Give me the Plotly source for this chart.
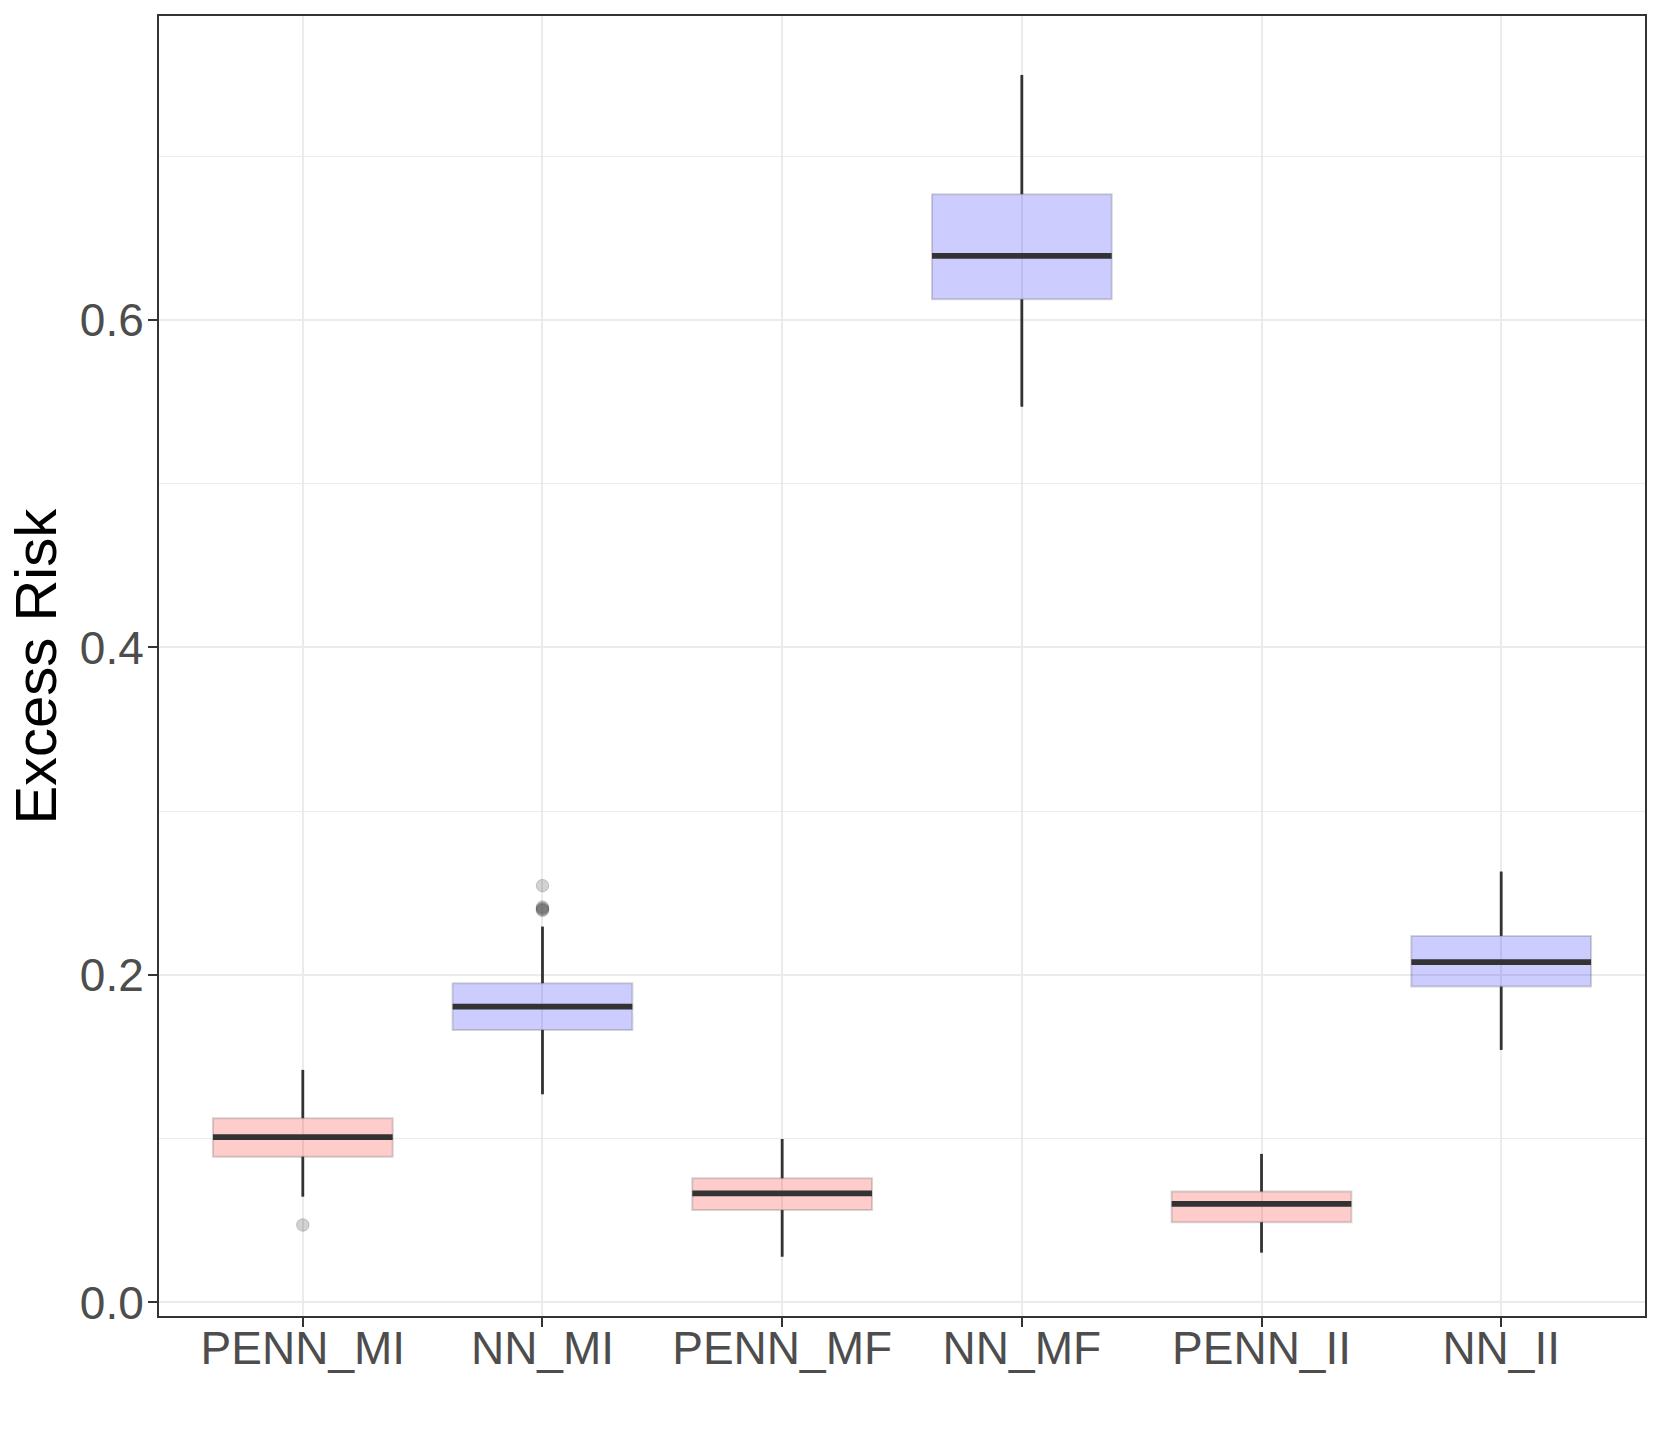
import plotly.graph_objects as go

categories = ["PENN_MI", "NN_MI", "PENN_MF", "NN_MF", "PENN_II", "NN_II"]
lower_whisker = [0.0646, 0.1271, 0.0279, 0.5470, 0.0304, 0.1542]
q1 = [0.0890, 0.1664, 0.0564, 0.6126, 0.0490, 0.1929]
median = [0.1009, 0.1806, 0.0666, 0.6391, 0.0602, 0.2078]
q3 = [0.1125, 0.1949, 0.0758, 0.6768, 0.0677, 0.2238]
upper_whisker = [0.1420, 0.2295, 0.0998, 0.7496, 0.0907, 0.2631]
outlier_cat = ["PENN_MI", "NN_MI", "NN_MI", "NN_MI", "NN_MI", "NN_MI"]
outlier_val = [0.0473, 0.2545, 0.2414, 0.2406, 0.2400, 0.2394]
method = ["PENN", "NN", "PENN", "NN", "PENN", "NN"]

fills = {"PENN": "rgba(255,0,0,0.2)", "NN": "rgba(0,0,255,0.2)"}
box_w = 0.75
dark = "#333333"

fig = go.Figure()
pos = list(range(len(categories)))

for i, cat in enumerate(categories):
    fig.add_trace(go.Box(
        x=[pos[i]], q1=[q1[i]], median=[median[i]], q3=[q3[i]],
        lowerfence=[lower_whisker[i]], upperfence=[upper_whisker[i]],
        width=box_w, fillcolor=fills[method[i]],
        line=dict(color="rgba(51,51,51,0.2)", width=2),
        whiskerwidth=0, boxpoints=False, showlegend=False, hoverinfo="skip",
    ))
    # whiskers
    fig.add_trace(go.Scatter(
        x=[pos[i], pos[i], None, pos[i], pos[i]],
        y=[q3[i], upper_whisker[i], None, q1[i], lower_whisker[i]],
        mode="lines", line=dict(color=dark, width=2.8),
        showlegend=False, hoverinfo="skip",
    ))
    # median
    fig.add_trace(go.Scatter(
        x=[pos[i] - box_w / 2, pos[i] + box_w / 2],
        y=[median[i], median[i]],
        mode="lines", line=dict(color=dark, width=5.8),
        showlegend=False, hoverinfo="skip",
    ))

fig.add_trace(go.Scatter(
    x=[categories.index(c) for c in outlier_cat], y=outlier_val,
    mode="markers",
    marker=dict(size=12.5, color="rgba(51,51,51,0.22)",
                line=dict(width=1, color="rgba(51,51,51,0.22)")),
    showlegend=False, hoverinfo="skip",
))

fig.update_layout(
    width=1661, height=1453,
    margin=dict(l=159, r=16, t=16, b=137),
    paper_bgcolor="white", plot_bgcolor="white",
    font=dict(family="Liberation Sans, Arial, sans-serif"),
    annotations=[dict(
        text="Excess Risk", textangle=-90, xref="paper", yref="paper",
        x=-0.0837, y=0.5, xanchor="center", yanchor="middle", showarrow=False,
        font=dict(size=58, color="black", family="Liberation Sans, Arial, sans-serif"),
    )],
)
fig.update_xaxes(
    range=[-0.6, 5.6], tickmode="array", tickvals=pos, ticktext=categories,
    showgrid=True, gridcolor="#EBEBEB", gridwidth=2,
    showline=True, linecolor=dark, linewidth=2, mirror=True,
    ticks="outside", ticklen=9, tickwidth=2, tickcolor=dark,
    tickfont=dict(size=46, color="#4D4D4D"), zeroline=False,
    ticklabelstandoff=-18,
)
fig.update_yaxes(
    range=[-0.0083, 0.7856], tickmode="array", tickvals=[0, 0.2, 0.4, 0.6],
    ticktext=["0.0", "0.2", "0.4", "0.6"],
    showgrid=True, gridcolor="#EBEBEB", gridwidth=2,
    minor=dict(tickmode="array", tickvals=[0.1, 0.3, 0.5, 0.7], showgrid=True,
               gridcolor="#EBEBEB", gridwidth=1, ticks=""),
    showline=True, linecolor=dark, linewidth=2, mirror=True,
    ticks="outside", ticklen=9, tickwidth=2, tickcolor=dark,
    tickfont=dict(size=46, color="#4D4D4D"), zeroline=False,
    ticklabelstandoff=-5,
)

fig.write_html("out.html",
               config={"displayModeBar": False},
               post_script="document.body.style.margin='0';document.body.style.overflow='hidden';")
